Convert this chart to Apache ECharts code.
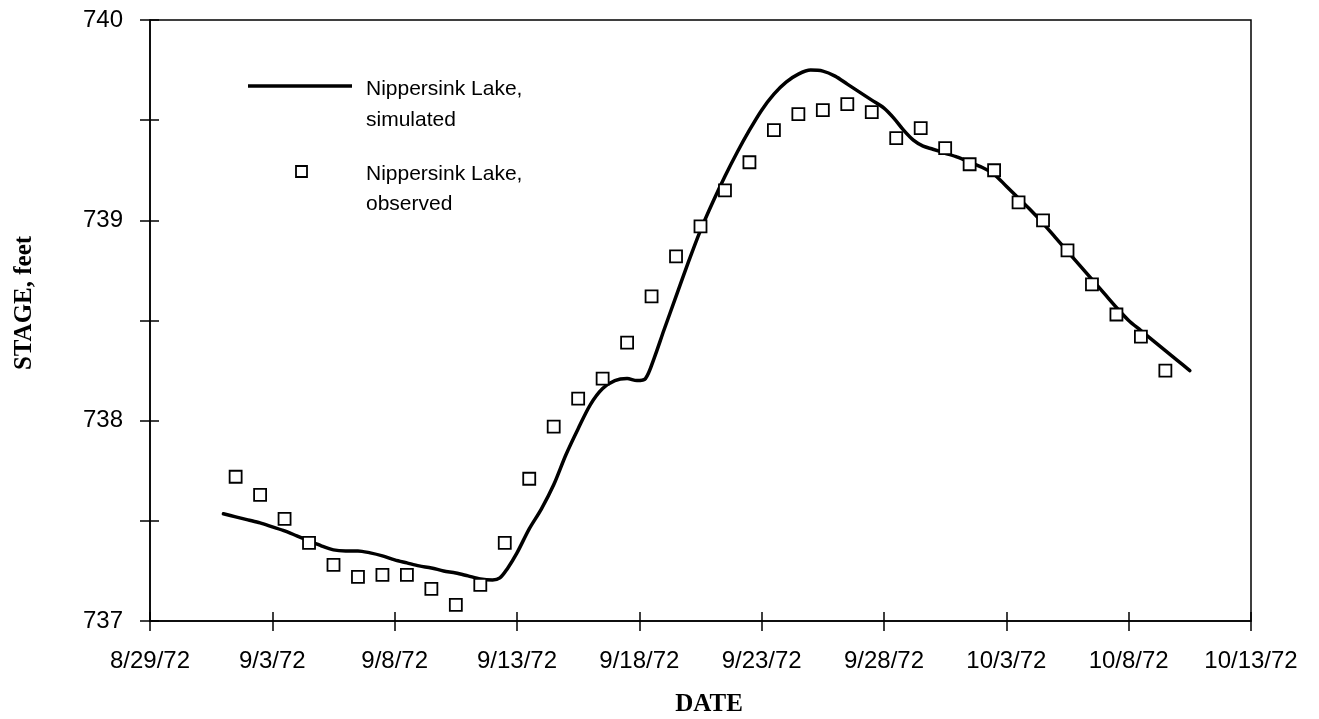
<!DOCTYPE html>
<html>
<head>
<meta charset="utf-8">
<title>Nippersink Lake stage</title>
<script src="https://cdn.jsdelivr.net/npm/echarts@6/dist/echarts.min.js"></script>
<style>
  html, body { margin: 0; padding: 0; background: #fff; }
  #chart { width: 1319px; height: 719px; }
</style>
</head>
<body>
<div id="chart"></div>
<script>
// Date axis: days counted from 8/29/72, labelled every 5 days
const dateTicks = ['8/29/72', '9/3/72', '9/8/72', '9/13/72', '9/18/72', '9/23/72',
                   '9/28/72', '10/3/72', '10/8/72', '10/13/72'];
const stageTicks = ['737', '', '738', '', '739', '', '740'];

// Simulated stage (feet), day offset from 8/29/72
const simDays = [3.0, 3.5, 4.0, 4.5, 5.0, 5.5, 6.0, 6.5, 7.0, 7.5, 8.0, 8.5, 9.0, 9.5,
  10.0, 10.5, 11.0, 11.5, 12.0, 12.5, 13.0, 13.5, 14.0, 14.3, 14.6, 15.0, 15.5, 16.0,
  16.5, 17.0, 17.5, 18.0, 18.5, 19.0, 19.5, 19.9, 20.25, 20.6, 21.0, 21.5, 22.0, 22.5,
  23.0, 23.5, 24.0, 24.5, 25.0, 25.5, 26.0, 26.5, 27.0, 27.5, 28.0, 28.5, 29.0, 29.5,
  30.0, 30.4, 30.8, 31.2, 31.6, 32.0, 32.5, 33.0, 33.5, 34.0, 34.5, 35.0, 35.5, 36.0,
  36.5, 37.0, 37.5, 38.0, 38.5, 39.0, 39.5, 40.0, 40.5, 41.0, 41.5, 42.0, 42.5];
const simStage = [737.535, 737.52, 737.505, 737.49, 737.47, 737.45, 737.425, 737.40,
  737.375, 737.355, 737.35, 737.35, 737.34, 737.325, 737.305, 737.29, 737.275, 737.265,
  737.25, 737.24, 737.225, 737.21, 737.205, 737.215, 737.26, 737.34, 737.46, 737.56,
  737.68, 737.83, 737.96, 738.08, 738.16, 738.20, 738.21, 738.20, 738.21, 738.31, 738.45,
  738.62, 738.79, 738.95, 739.09, 739.22, 739.34, 739.45, 739.55, 739.63, 739.69, 739.73,
  739.75, 739.745, 739.72, 739.68, 739.64, 739.60, 739.56, 739.51, 739.45, 739.40, 739.37,
  739.355, 739.335, 739.315, 739.29, 739.265, 739.23, 739.17, 739.11, 739.05, 738.985,
  738.915, 738.845, 738.775, 738.705, 738.635, 738.565, 738.50, 738.45, 738.40, 738.35,
  738.30, 738.25];

// Observed daily stage (feet), read at midday
const obsDays = [3.5, 4.5, 5.5, 6.5, 7.5, 8.5, 9.5, 10.5, 11.5, 12.5, 13.5, 14.5, 15.5,
  16.5, 17.5, 18.5, 19.5, 20.5, 21.5, 22.5, 23.5, 24.5, 25.5, 26.5, 27.5, 28.5, 29.5,
  30.5, 31.5, 32.5, 33.5, 34.5, 35.5, 36.5, 37.5, 38.5, 39.5, 40.5, 41.5];
const obsStage = [737.72, 737.63, 737.51, 737.39, 737.28, 737.22, 737.23, 737.23, 737.16,
  737.08, 737.18, 737.39, 737.71, 737.97, 738.11, 738.21, 738.39, 738.62, 738.82, 738.97,
  739.15, 739.29, 739.45, 739.53, 739.55, 739.58, 739.54, 739.41, 739.46, 739.36, 739.28,
  739.25, 739.09, 739.00, 738.85, 738.68, 738.53, 738.42, 738.25];

const simName = 'Nippersink Lake, simulated';
const obsName = 'Nippersink Lake, observed';

const INK = '#000';
const SANS = '"Liberation Sans", Arial, Helvetica, sans-serif';
const SERIF = '"Liberation Serif", "Times New Roman", serif';

const gridBox = { left: 150, right: 68, top: 20, bottom: 98 };

const chart = echarts.init(document.getElementById('chart'), null, { renderer: 'canvas' });

// Two identical grids: the second one only carries the inward half of each tick,
// so ticks cross the axis lines.
const xBase = { type: 'value', min: 0, max: 45, interval: 5, splitLine: { show: false } };
const yBase = { type: 'value', min: 737, max: 740, interval: 0.5, splitLine: { show: false } };

chart.setOption({
  animation: false,
  backgroundColor: '#fff',
  grid: [
    Object.assign({ show: true, borderColor: INK, borderWidth: 1.5, backgroundColor: 'transparent' }, gridBox),
    Object.assign({ show: false }, gridBox)
  ],
  xAxis: [
    Object.assign({}, xBase, {
      gridIndex: 0,
      axisLine: { show: true, lineStyle: { color: INK, width: 1.5 } },
      axisTick: { show: true, inside: false, length: 10, lineStyle: { color: INK, width: 1.5 } },
      axisLabel: {
        show: true, margin: 28, color: INK, fontFamily: SANS, fontSize: 24,
        formatter: v => dateTicks[Math.round(v / 5)] || ''
      }
    }),
    Object.assign({}, xBase, {
      gridIndex: 1,
      axisLine: { show: false },
      axisTick: { show: true, inside: true, length: 9, lineStyle: { color: INK, width: 1.5 } },
      axisLabel: { show: false }
    })
  ],
  yAxis: [
    Object.assign({}, yBase, {
      gridIndex: 0,
      axisLine: { show: true, lineStyle: { color: INK, width: 1.5 } },
      axisTick: { show: true, inside: false, length: 10, lineStyle: { color: INK, width: 1.5 } },
      axisLabel: {
        show: true, margin: 27, color: INK, fontFamily: SANS, fontSize: 24,
        formatter: v => stageTicks[Math.round((v - 737) / 0.5)] || ''
      }
    }),
    Object.assign({}, yBase, {
      gridIndex: 1,
      axisLine: { show: false },
      axisTick: { show: true, inside: true, length: 9, lineStyle: { color: INK, width: 1.5 } },
      axisLabel: { show: false }
    })
  ],
  series: [
    {
      name: simName,
      type: 'line',
      xAxisIndex: 0, yAxisIndex: 0,
      data: simDays.map((d, i) => [d, simStage[i]]),
      showSymbol: false,
      smooth: 0.3,
      lineStyle: { color: INK, width: 3.5, cap: 'round', join: 'round' },
      z: 2
    },
    {
      name: obsName,
      type: 'scatter',
      xAxisIndex: 0, yAxisIndex: 0,
      data: obsDays.map((d, i) => [d, obsStage[i]]),
      symbol: 'rect',
      symbolSize: 12,
      itemStyle: { color: '#fff', borderColor: INK, borderWidth: 1.8, opacity: 1 },
      z: 3
    }
  ],
  graphic: [
    // legend
    { type: 'line', shape: { x1: 248, y1: 86, x2: 352, y2: 86 },
      style: { stroke: INK, lineWidth: 3.5 } },
    { type: 'text', x: 366, y: 89, style: { text: 'Nippersink Lake,', font: '21px ' + SANS, fill: INK, verticalAlign: 'middle' } },
    { type: 'text', x: 366, y: 120, style: { text: 'simulated', font: '21px ' + SANS, fill: INK, verticalAlign: 'middle' } },
    { type: 'rect', shape: { x: 296, y: 166, width: 11, height: 11 },
      style: { fill: '#fff', stroke: INK, lineWidth: 1.8 } },
    { type: 'text', x: 366, y: 174, style: { text: 'Nippersink Lake,', font: '21px ' + SANS, fill: INK, verticalAlign: 'middle' } },
    { type: 'text', x: 366, y: 204, style: { text: 'observed', font: '21px ' + SANS, fill: INK, verticalAlign: 'middle' } },
    // axis titles
    { type: 'text', x: 709, y: 705,
      style: { text: 'DATE', font: 'bold 25px ' + SERIF, fill: INK, align: 'center', verticalAlign: 'middle' } },
    { type: 'text', x: 25, y: 303, rotation: Math.PI / 2,
      style: { text: 'STAGE, feet', font: 'bold 25px ' + SERIF, fill: INK, align: 'center', verticalAlign: 'middle' } }
  ]
});
</script>
</body>
</html>
